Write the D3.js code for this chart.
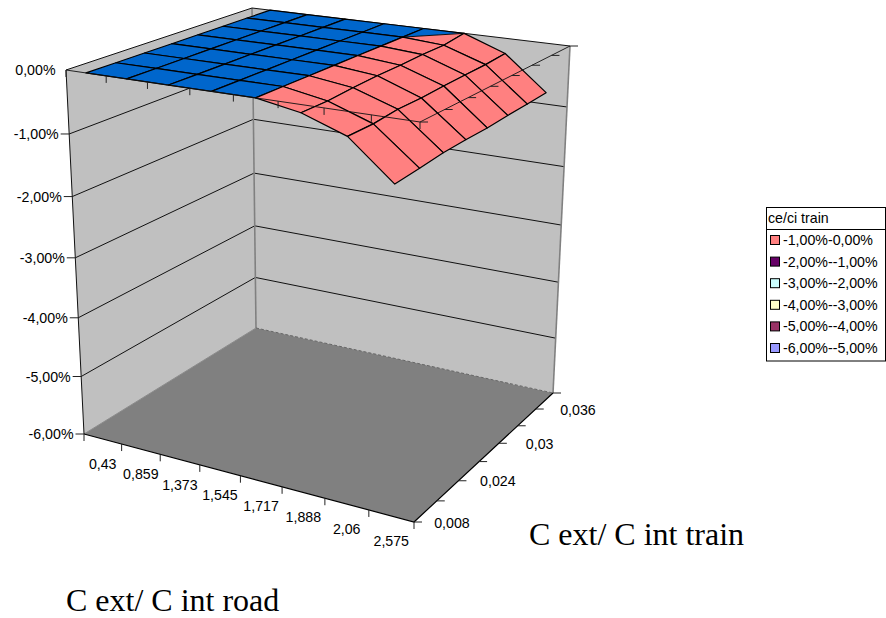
<!DOCTYPE html>
<html><head><meta charset="utf-8">
<script src="https://cdnjs.cloudflare.com/ajax/libs/d3/7.8.5/d3.min.js"></script>
<style>html,body{margin:0;padding:0;background:#fff}svg{display:block}</style>
</head><body><svg id="c" width="886" height="618"></svg>
<script>
const xLabels = ['0,43','0,859','1,373','1,545','1,717','1,888','2,06','2,575'];
const yLabels = ['0,008','','0,024','','0,03','','0,036'];
const zTicks = [0,-1,-2,-3,-4,-5,-6];
const zTickLabels = ['0,00%','-1,00%','-2,00%','-3,00%','-4,00%','-5,00%','-6,00%'];
const legendTitle = 'ce/ci train';
const legendLabels = ['-1,00%-0,00%','-2,00%--1,00%','-3,00%--2,00%','-4,00%--3,00%','-5,00%--4,00%','-6,00%--5,00%'];
const legendColors = ['#FF8080','#660066','#CCFFFF','#FFFFCC','#993366','#9999FF'];
// surface values in %: one array per train-ratio row, one value per road-ratio category
const row0 = [0,0,0,0,0,-0.12,-0.36,-0.94];
const row1 = [0,0,0,0,0,-0.12,-0.36,-0.91];
const row2 = [0,0,0,0,0,-0.09,-0.32,-0.87];
const row3 = [0,0,0,0,0,-0.07,-0.32,-0.86];
const row4 = [0,0,0,0,0,-0.065,-0.30,-0.86];
const row5 = [0,0,0,0,0,-0.05,-0.29,-0.84];
const row6 = [0,0,0,0,0,-0.05,-0.28,-0.83];
const row7 = [0,0,0,0,0,0,-0.25,-0.81];
const rows = [row0,row1,row2,row3,row4,row5,row6,row7];

const svg = d3.select('#c');
const FONT = '"Liberation Sans", Arial, sans-serif';
const SERIF = '"Liberation Serif", "Times New Roman", serif';

// box corners: front-left, front-right, back-right, back-left
const topQuad = [[66,70],[420,122],[570,46],[252,8]];
const botQuad = [[84,434],[414,522],[553,393],[256,328]];
function homography(q){
  const [[x0,y0],[x1,y1],[x2,y2],[x3,y3]] = q;
  const dx1=x1-x2, dx2=x3-x2, sx=x0-x1+x2-x3, dy1=y1-y2, dy2=y3-y2, sy=y0-y1+y2-y3;
  const den=dx1*dy2-dx2*dy1, g=(sx*dy2-dx2*sy)/den, h=(dx1*sy-sx*dy1)/den;
  const a=x1-x0+g*x1, b=x3-x0+h*x3, d=y1-y0+g*y1, e=y3-y0+h*y3;
  return (u,v)=>{const w=g*u+h*v+1; return [(a*u+b*v+x0)/w,(d*u+e*v+y0)/w];};
}
const Ht = homography(topQuad), Hb = homography(botQuad);
const uScale = d3.scaleLinear().domain([0,xLabels.length]).range([0,1]);      // category bands
const vScale = d3.scaleLinear().domain([0,rows.length-1]).range([0,1]);       // series ticks
const zScale = d3.scaleLinear().domain([0,-6]).range([0,1]);
const depth = t => t/(t+(1-t)*0.938);
function project(i,j,z){
  const u=uScale(i), v=vScale(j), t=depth(zScale(z));
  const a=Ht(u,v), b=Hb(u,v);
  return [a[0]+(b[0]-a[0])*t, a[1]+(b[1]-a[1])*t];
}
const line = d3.line();
const nx = xLabels.length, ny = rows.length-1;

// walls and floor
const wall = '#C0C0C0';
svg.append('path').attr('d',line([project(0,0,0),project(0,ny,0),project(0,ny,-6),project(0,0,-6)])+'Z').attr('fill',wall);
svg.append('path').attr('d',line([project(0,ny,0),project(nx,ny,0),project(nx,ny,-6),project(0,ny,-6)])+'Z').attr('fill',wall);
svg.append('path').attr('d',line([project(0,0,-6),project(nx,0,-6),project(nx,ny,-6),project(0,ny,-6)])+'Z').attr('fill','#808080');

// wall gridlines
svg.append('g').selectAll('path').data(zTicks.slice(1,-1)).join('path')
  .attr('d',z=>line([project(0,0,z),project(0,ny,z),project(nx,ny,z)]))
  .attr('fill','none').attr('stroke','#111').attr('stroke-width',1);
// wall edges
svg.append('path').attr('d',line([project(0,ny,0),project(0,ny,-6)])).attr('stroke','#808080').attr('stroke-width',1.6);
svg.append('path').attr('d',line([project(nx,ny,0),project(nx,ny,-6)])).attr('stroke','#808080').attr('stroke-width',1.6);
svg.append('path').attr('d',line([project(0,0,-6),project(0,ny,-6)])).attr('fill','none').attr('stroke','#8a8a8a').attr('stroke-width',1);
svg.append('path').attr('d',line([project(0,ny,-6),project(nx,ny,-6)])).attr('fill','none').attr('stroke','#666').attr('stroke-width',1).attr('stroke-dasharray','3,2');
svg.append('path').attr('d',line([project(0,0,0),project(0,0,-6)])).attr('stroke','#111').attr('stroke-width',1);
svg.append('path').attr('d',line([project(0,0,0),project(0,ny,0),project(nx,ny,0)])).attr('fill','none').attr('stroke','#111').attr('stroke-width',1);
svg.append('path').attr('d',line([project(0,0,-6),project(nx,0,-6),project(nx,ny,-6)])).attr('fill','none').attr('stroke','#000').attr('stroke-width',1.2);

// surface: the sheet does not fold over itself, so no depth sorting is needed
const BLUE='#0066CC', PINK='#FF8080';
const sg = svg.append('g').attr('stroke','#000').attr('stroke-width',1.2).attr('stroke-linejoin','round');
const P=(c,r)=>project(c+0.5,r,rows[r][c]);
for(let r=ny-1;r>=0;r--){
  for(let c=0;c<nx-1;c++){
    const corners=[[c,r],[c+1,r],[c+1,r+1],[c,r+1]];
    const zeros=corners.filter(([a,b])=>rows[b][a]===0).length;
    if(zeros===3){
      sg.append('path').attr('d',line([P(c,r),P(c,r+1),P(c+1,r+1)])+'Z').attr('fill',BLUE).attr('stroke','none');
      sg.append('path').attr('d',line([P(c,r),P(c+1,r),P(c+1,r+1)])+'Z').attr('fill',PINK).attr('stroke','none');
      sg.append('path').attr('d',line([P(c,r),P(c,r+1),P(c+1,r+1),P(c+1,r)])+'Z').attr('fill','none');
      sg.append('path').attr('d',line([P(c,r),P(c+1,r+1)])).attr('fill','none').attr('stroke-width',0.9);
    } else {
      sg.append('path').attr('d',line(corners.map(([a,b])=>P(a,b)))+'Z').attr('fill',zeros===4?BLUE:PINK);
    }
  }
}

// front edges at the top of the box, drawn over the surface
svg.append('path').attr('d',line([project(0,0,0),project(nx,0,0),project(nx,ny,0)])).attr('fill','none').attr('stroke','#111').attr('stroke-width',0.9);

// ticks
const ticks = svg.append('g').attr('stroke','#222').attr('stroke-width',1);
d3.range(nx+1).forEach(i=>{
  const a=project(i,0,0), b=project(i,0,-6);
  ticks.append('path').attr('d',line([a,[a[0],a[1]+7]]));
  ticks.append('path').attr('d',line([b,[b[0],b[1]+7]]));
});
d3.range(ny+1).forEach(j=>{
  const a=project(nx,j,0), b=project(nx,j,-6);
  ticks.append('path').attr('d',line([a,[a[0]+8,a[1]]]));
  ticks.append('path').attr('d',line([b,[b[0]+8,b[1]]]));
});
zTicks.slice(1).forEach(z=>{
  const a=project(0,0,z);
  ticks.append('path').attr('d',line([a,[a[0]-8.5,a[1]]]));
});

// labels
const lab = svg.append('g').attr('font-family',FONT).attr('font-size',14.2).attr('fill','#000');
zTicks.forEach((z,k)=>{
  const a=project(0,0,z);
  lab.append('text').attr('x',a[0]-10.5).attr('y',a[1]+5).attr('text-anchor','end').text(zTickLabels[k]);
});
xLabels.forEach((s,i)=>{
  const a=project(i+0.5,0,-6);
  lab.append('text').attr('x',a[0]).attr('y',a[1]+30).attr('text-anchor','middle').text(s);
});
yLabels.forEach((s,j)=>{
  if(!s) return;
  const a=project(nx,j,-6);
  lab.append('text').attr('x',a[0]+38+j*0.7).attr('y',a[1]+5.5).attr('text-anchor','middle').text(s);
});

// axis titles
const t = svg.append('g').attr('font-family',SERIF).attr('font-size',32).attr('fill','#000');
t.append('text').attr('x',529).attr('y',545).text('C ext/ C int train');
t.append('text').attr('x',66).attr('y',611).text('C ext/ C int road');

// legend
const lg = svg.append('g').attr('font-family',FONT).attr('font-size',14.2).attr('fill','#000');
lg.append('rect').attr('x',766.5).attr('y',207.5).attr('width',119).attr('height',153.5).attr('fill','#fff').attr('stroke','#000');
lg.append('path').attr('d','M766.5,229.5H885.5').attr('stroke','#000');
lg.append('text').attr('x',768).attr('y',223).text(legendTitle);
const legendY = d3.scalePoint().domain(legendLabels).range([240,348]);
legendLabels.forEach((s,i)=>{
  const y=legendY(s);
  lg.append('rect').attr('x',770.5).attr('y',y-4.5).attr('width',9).attr('height',9).attr('fill',legendColors[i]).attr('stroke','#000');
  lg.append('text').attr('x',783).attr('y',y+5).text(s);
});
</script></body></html>
